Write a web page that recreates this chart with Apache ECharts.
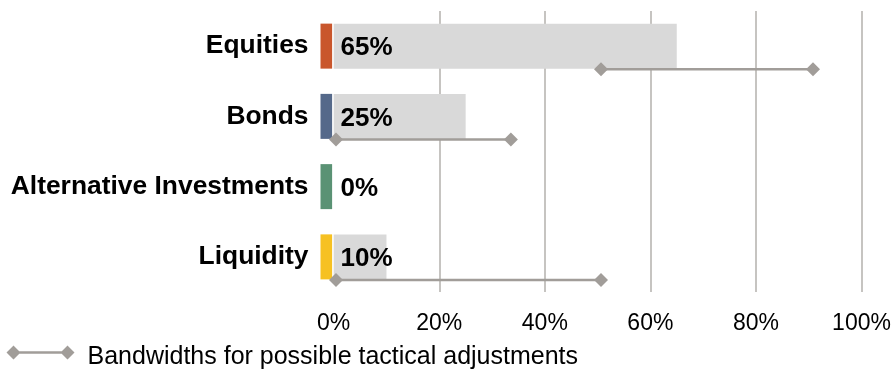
<!DOCTYPE html>
<html>
<head>
<meta charset="utf-8">
<script src="https://cdn.jsdelivr.net/npm/echarts@6/dist/echarts.min.js"></script>
<style>
  html, body { margin: 0; padding: 0; background: #fff; }
  #chart { width: 894px; height: 369px; }
</style>
</head>
<body>
<div id="chart"></div>
<script>
// Strategic allocation per asset class (%)
const categories = ['Equities', 'Bonds', 'Alternative Investments', 'Liquidity'];
const allocation = [65, 25, 0, 10];
// Tactical bandwidth per asset class (%), null = no band
const bandLow = [50, 0, null, 0];
const bandHigh = [90, 33, null, 50];
const tickValues = [0, 20, 40, 60, 80, 100];
const categoryColors = ['#c9562c', '#55698a', '#5a9274', '#f6c122'];

const bandName = 'Bandwidths for possible tactical adjustments';
const FONT = "'Liberation Sans', Arial, sans-serif";
const BAND_GRAY = '#a19d99';

// one line segment per asset class that has a band
const bandSeries = categories
  .map((cat, i) => ({ cat, lo: bandLow[i], hi: bandHigh[i] }))
  .filter(b => b.lo !== null)
  .map(b => ({
    name: bandName,
    type: 'line',
    xAxisIndex: 1,
    yAxisIndex: 1,
    data: [[b.lo, b.cat], [b.hi, b.cat]],
    symbol: 'diamond',
    symbolSize: 14,
    lineStyle: { color: BAND_GRAY, width: 2.5 },
    itemStyle: { color: BAND_GRAY },
    silent: true,
    z: 5
  }));

const chart = echarts.init(document.getElementById('chart'), null, { renderer: 'canvas' });

chart.setOption({
  animation: false,
  textStyle: { fontFamily: FONT },
  grid: [
    { left: 320.5, right: 32.5, top: 11, bottom: 77 },
    // band lines sit along the lower edge of each bar
    { left: 336, right: 28, top: 34, bottom: 54 }
  ],
  xAxis: [
    {
      gridIndex: 0,
      type: 'value',
      min: -2.5,
      max: 100,
      axisLine: { show: false },
      axisTick: { show: false, customValues: tickValues.slice(1) },
      axisLabel: {
        customValues: tickValues,
        formatter: v => v + '%',
        fontSize: 23,
        lineHeight: 23,
        color: '#000',
        margin: 20,
        fontFamily: FONT
      },
      splitLine: { show: true, lineStyle: { color: '#b3b0ad', width: 1.5 } }
    },
    { gridIndex: 1, type: 'value', min: 0, max: 100, show: false }
  ],
  yAxis: [
    {
      gridIndex: 0,
      type: 'category',
      data: categories,
      inverse: true,
      axisLine: { show: false },
      axisTick: { show: false },
      axisLabel: {
        fontSize: 26.4,
        fontWeight: 'bold',
        color: '#000',
        margin: 12,
        fontFamily: FONT
      }
    },
    { gridIndex: 1, type: 'category', data: categories, inverse: true, show: false }
  ],
  legend: {
    left: 1.5,
    top: 340,
    itemWidth: 68,
    itemHeight: 24,
    selectedMode: false,
    data: [{
      name: bandName,
      // line with a diamond at each end, drawn in the upper part of the icon box
      icon: 'path://M0,7L7,0L14,7L7,14Z M7,5.8L61,5.8L61,8.2L7,8.2Z M54,7L61,0L68,7L61,14Z M34,24L34,24L34,24Z'
    }],
    itemStyle: { color: BAND_GRAY },
    textStyle: { fontSize: 25, color: '#000', fontFamily: FONT, padding: [0, 0, 0, 8] }
  },
  series: [
    {
      // small gap between the colour marker and the zero line
      type: 'bar',
      stack: 'alloc',
      barWidth: 45,
      data: categories.map(() => -0.3),
      itemStyle: { color: 'rgba(0,0,0,0)' },
      silent: true
    },
    {
      // colour marker for each asset class, carrying the allocation label
      type: 'bar',
      stack: 'alloc',
      barWidth: 45,
      data: categoryColors.map(c => ({ value: -2.2, itemStyle: { color: c } })),
      label: {
        show: true,
        position: 'right',
        distance: 8.5,
        offset: [0, 2],
        formatter: p => allocation[p.dataIndex] + '%',
        fontSize: 26,
        fontWeight: 'bold',
        color: '#000',
        fontFamily: FONT
      },
      silent: true,
      z: 3
    },
    {
      type: 'bar',
      stack: 'alloc',
      barWidth: 45,
      data: allocation,
      itemStyle: { color: '#d9d9d9' },
      silent: true
    },
    ...bandSeries
  ]
});
</script>
</body>
</html>
